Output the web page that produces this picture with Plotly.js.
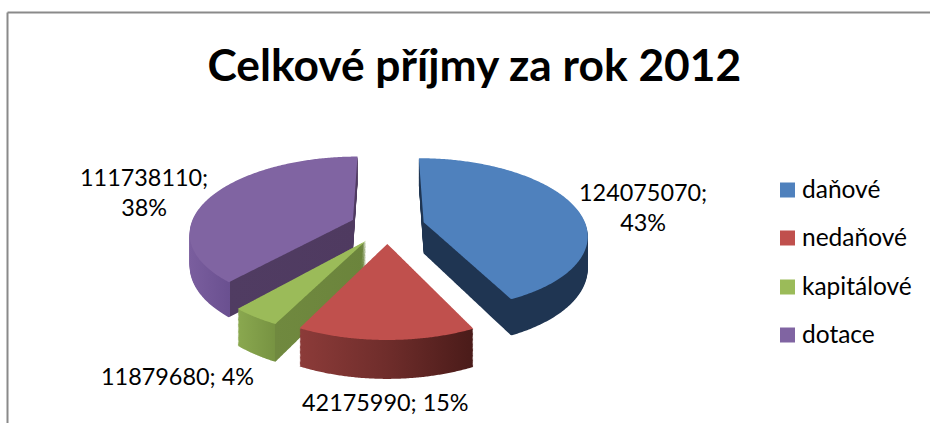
<!DOCTYPE html>
<html><head><meta charset="utf-8">
<script src="https://cdn.plot.ly/plotly-3.0.1.min.js"></script>
<style>html,body{margin:0;padding:0;background:#fff}#c{width:930px;height:423px}</style>
</head><body><div id="c"></div>
<script>
// Data
const categories = ["daňové", "nedaňové", "kapitálové", "dotace"];
const values = [124075070, 42175990, 11879680, 111738110];
const dataLabels = ["124075070;<br>43%", "42175990; 15%", "11879680; 4%", "111738110;<br>38%"];
const chartTitle = "Celkové příjmy za rok 2012";
// Styles
const topColors = ["#4f81bd", "#c0504d", "#9bbb59", "#8064a2"];
const wallStops = [
  [[0, "#1f3552"], [1, "#1f3552"]],
  [[0, "#8c3b39"], [0.5, "#6f2d2b"], [1, "#4a1b19"]],
  [[0, "#8aa84f"], [0.29, "#779342"], [0.29, "#70893f"], [1, "#6b843c"]],
  [[0, "#7a5e9e"], [0.24, "#6a5090"], [0.24, "#503c62"], [1, "#4f3a60"]]
];
const labelPos = [[642.5, 207], [385.5, 402], [177, 376], [143.5, 192]];
const FONT = "Lato, Carlito, sans-serif";
const PULL = 0.23, LAYERS = 32;
// projection of the flat pie onto the tilted view
const X0 = 387.5, Y0 = 226, RX = 162.5, RY = 75, A = 0.155, DEPTH = 31.5;
const W = 930, H = 423;

const traces = [];
for (let j = 0; j < LAYERS; j++) {
  const isTop = j === LAYERS - 1;
  traces.push({
    type: "pie", labels: categories, values: values, sort: false,
    direction: "clockwise", rotation: 0, textinfo: "none",
    pull: values.map(() => PULL), showlegend: isTop, hoverinfo: "skip",
    domain: {x: [0.2, 0.8], y: [0, 1]},
    marker: {colors: topColors, line: {width: 0}}
  });
}
const layout = {
  width: W, height: H, margin: {l: 0, r: 0, t: 0, b: 0},
  paper_bgcolor: "#fff", font: {family: FONT, color: "#000"},
  title: {text: chartTitle, x: 0.51, xanchor: "center", y: 0.845, yanchor: "middle",
          font: {family: FONT, size: 44.3, weight: 700, color: "#000"}},
  showlegend: true,
  legend: {x: 0.8, y: 0.9, xanchor: "left", yanchor: "top", font: {size: 24.5, family: FONT}, bgcolor: "rgba(0,0,0,0)"},
  annotations: dataLabels.map((t, i) => ({
    text: t, xref: "paper", yref: "paper", x: labelPos[i][0] / W, y: 1 - labelPos[i][1] / H,
    xanchor: "center", yanchor: "middle", showarrow: false, align: "center",
    font: {family: FONT, size: 23.4, color: "#000"}
  })),
  shapes: [
    {type: "line", xref: "paper", yref: "paper", x0: 7.5 / W, x1: 1, y0: 1 - 12.5 / H, y1: 1 - 12.5 / H, line: {color: "#8a8a8a", width: 2}},
    {type: "line", xref: "paper", yref: "paper", x0: 7.5 / W, x1: 7.5 / W, y0: 1 - 12.5 / H, y1: 0, line: {color: "#8a8a8a", width: 2}}
  ]
};

const gd = document.getElementById("c");
Plotly.newPlot(gd, traces, layout, {displayModeBar: false, staticPlot: true}).then(() => {
  const svgNS = "http://www.w3.org/2000/svg";
  const defs = gd.querySelector(".main-svg defs");
  wallStops.forEach((stops, i) => {
    const g = document.createElementNS(svgNS, "linearGradient");
    g.setAttribute("id", "wall" + i);
    g.setAttribute("x1", "0"); g.setAttribute("x2", "1"); g.setAttribute("y1", "0"); g.setAttribute("y2", "0");
    stops.forEach(s => {
      const st = document.createElementNS(svgNS, "stop");
      st.setAttribute("offset", s[0]); st.setAttribute("stop-color", s[1]);
      g.appendChild(st);
    });
    defs.appendChild(g);
  });

  const cd = gd.calcdata[0][0];
  const cx = cd.cx, cy = cd.cy, r = cd.r;
  const traceGs = Array.from(gd.querySelectorAll(".pielayer .trace"));
  const topPaths = Array.from(traceGs[traceGs.length - 1].querySelectorAll(".slice path.surface"));
  // flat outline of every slice in pie units, sampled from the library's own path
  const outlines = topPaths.map(p => {
    const len = p.getTotalLength(), out = [];
    const n = 420;
    for (let k = 0; k <= n; k++) {
      const q = p.getPointAtLength(len * k / n);
      out.push([(q.x - cx) / r, (q.y - cy) / r]);
    }
    return out;
  });
  traceGs.forEach((tg, j) => {
    const isTop = j === traceGs.length - 1;
    const depth = DEPTH * (1 - j / (LAYERS - 1));
    tg.querySelectorAll(".slice path.surface").forEach((p, i) => {
      const d = outlines[i].map((o, k) => {
        const w = 1 - A * o[1];
        const x = X0 + RX * o[0] / w, y = Y0 + RY * o[1] / w + depth / w;
        return (k ? "L" : "M") + x.toFixed(2) + "," + y.toFixed(2);
      }).join("") + "Z";
      p.setAttribute("d", d);
      if (!isTop) p.style.fill = "url(#wall" + i + ")";
    });
  });

  // legend placement
  const legend = gd.querySelector(".legend");
  const sb = legend.querySelector(".scrollbox");
  sb.removeAttribute("clip-path");
  const lt = legend.querySelectorAll(".traces");
  const ly = [190, 238, 287, 335];
  legend.setAttribute("transform", "translate(0,0)");
  sb.setAttribute("transform", "translate(0,0)");
  lt.forEach((t, i) => {
    t.setAttribute("transform", "translate(0," + ly[i] + ")");
    const sw = t.querySelector(".legendpie path, path.legendpie, .legendpoints path");
    if (sw) { sw.setAttribute("transform", "translate(787.5,0) scale(1.25)"); }
    const tx = t.querySelector("text");
    tx.setAttribute("x", 802); tx.setAttribute("y", 8);
  });
});
</script></body></html>
